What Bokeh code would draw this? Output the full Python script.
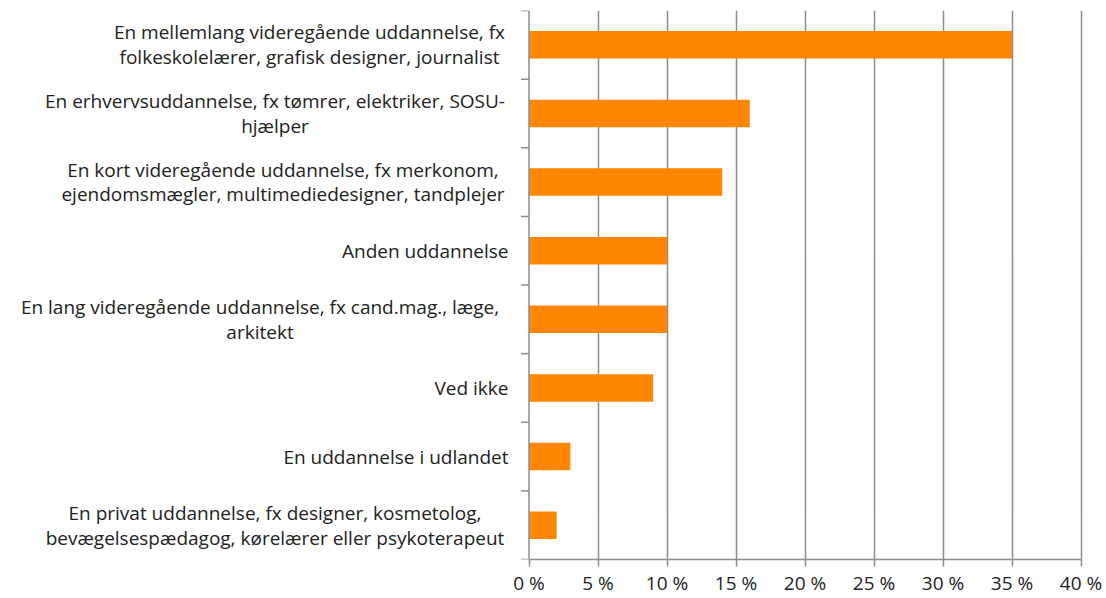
from bokeh.plotting import figure
from bokeh.models import Range1d, FixedTicker, Span, ColumnDataSource
from bokeh.core.properties import value
from bokeh.embed import file_html
from bokeh.resources import INLINE

# ---- data (top to bottom) ----
categories = [
    "En mellemlang videregående uddannelse, fx\nfolkeskolelærer, grafisk designer, journalist",
    "En erhvervsuddannelse, fx tømrer, elektriker, SOSU-\nhjælper",
    "En kort videregående uddannelse, fx merkonom,\nejendomsmægler, multimediedesigner, tandplejer",
    "Anden uddannelse",
    "En lang videregående uddannelse, fx cand.mag., læge,\narkitekt",
    "Ved ikke",
    "En uddannelse i udlandet",
    "En privat uddannelse, fx designer, kosmetolog,\nbevægelsespædagog, kørelærer eller psykoterapeut",
]
values = [35, 16, 14, 10, 10, 9, 3, 2]
x_ticks = [0, 5, 10, 15, 20, 25, 30, 35, 40]
x_tick_labels = ["0 %", "5 %", "10 %", "15 %", "20 %", "25 %", "30 %", "35 %", "40 %"]

# layout: horizontal centre (px, relative to the 0 % axis) of each wrapped label
label_center_offset = [-219.5, -254.0, -246.0, None, -269.0, None, None, -254.0]

n = len(categories)
ys = [n - 0.5 - i for i in range(n)]
src = ColumnDataSource(dict(y=ys, v=values))

single = [i for i, c in enumerate(categories) if "\n" not in c]
multi = [i for i, c in enumerate(categories) if "\n" in c]
src_single = ColumnDataSource(dict(y=[ys[i] for i in single],
                                   cat=[categories[i] for i in single]))
src_multi = ColumnDataSource(dict(y=[ys[i] for i in multi],
                                  cat=[categories[i] for i in multi],
                                  off=[label_center_offset[i] for i in multi]))

FONT = "Open Sans"
TXT = "#222222"
GRID = "#8c8c8c"
BAR = "#FF8600"
FS = "19px"

W, H = 1106, 598
X0_PX = 528.5           # pixel where 0 % lies
PX_PER_UNIT = 552 / 40  # 40 % spans 552 px
x_start = -X0_PX / PX_PER_UNIT
x_end = (W - X0_PX) / PX_PER_UNIT

p = figure(
    width=W, height=H,
    x_range=Range1d(x_start, x_end), y_range=Range1d(0, n),
    output_backend="svg", toolbar_location=None,
    y_axis_location=None,
    min_border_left=0, min_border_right=0,
    min_border_top=10, min_border_bottom=36,
)
p.outline_line_color = None
p.background_fill_color = "white"
p.border_fill_color = "white"

# grid
p.ygrid.grid_line_color = None
p.xgrid.ticker = FixedTicker(ticks=x_ticks[1:])
p.xgrid.grid_line_color = GRID
p.xgrid.grid_line_width = 1.5

# bars
p.hbar(y="y", right="v", left=0, height=0.4, source=src,
       fill_color=BAR, line_color=None)

# y axis line and boundary ticks
p.add_layout(Span(location=0, dimension="height",
                  line_color=GRID, line_width=1.5))
p.ray(x=0, y=list(range(n + 1)), length=8, length_units="screen",
      angle=180, angle_units="deg", line_color=GRID, line_width=1.5)

# category labels
p.text(x=0, y="y", text="cat", source=src_single, x_offset=-20.5,
       text_align="right", text_baseline="middle",
       text_font=value(FONT), text_font_size=FS, text_color=TXT)
p.text(x=0, y="y", text="cat", source=src_multi, x_offset="off",
       text_align="center", text_baseline="middle",
       text_font=value(FONT), text_font_size=FS, text_color=TXT,
       text_line_height=0.95)

# x axis
p.xaxis.ticker = FixedTicker(ticks=x_ticks)
p.xaxis.bounds = (0, 40)
p.xaxis.major_label_overrides = {t: l for t, l in zip(x_ticks, x_tick_labels)}
p.xaxis.axis_line_color = GRID
p.xaxis.axis_line_width = 1.5
p.xaxis.major_tick_line_color = GRID
p.xaxis.major_tick_line_width = 1.5
p.xaxis.major_tick_out = 7
p.xaxis.major_tick_in = 0
p.xaxis.minor_tick_line_color = None
p.xaxis.major_label_text_font = FONT
p.xaxis.major_label_text_font_size = FS
p.xaxis.major_label_text_color = TXT
p.xaxis.major_label_standoff = 3

open("out.html", "w").write(file_html(p, INLINE))
